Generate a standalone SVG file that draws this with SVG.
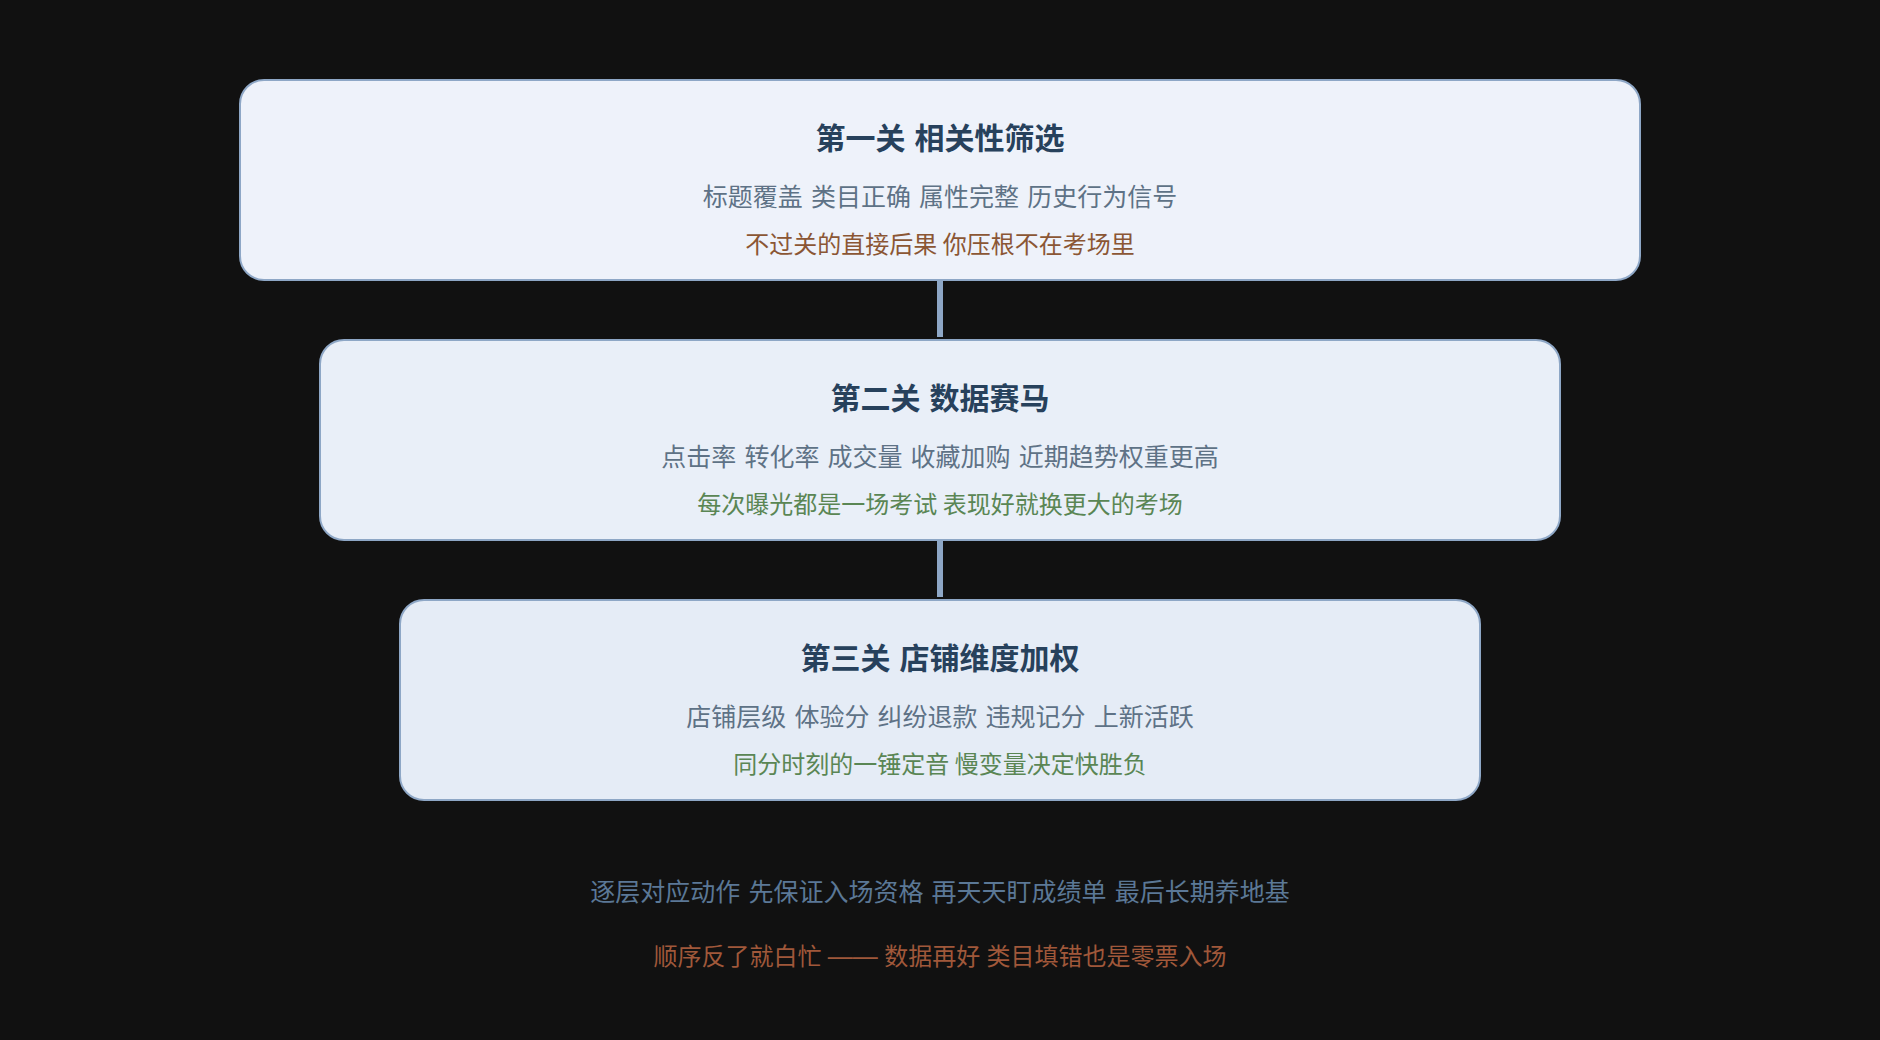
<svg xmlns="http://www.w3.org/2000/svg" width="1880" height="1040" viewBox="0 0 1880 1040">
<style>
text{font-family:"Noto Sans CJK SC","Noto Sans",sans-serif;text-anchor:middle}
.box{stroke:#8ea7c6;stroke-width:2}
.t{font-size:30px;font-weight:700;fill:#27415c;word-spacing:2px}
.s{font-size:25px;fill:#5e7286;word-spacing:2.5px}
.w{font-size:24px;fill:#8b5634}
.g{font-size:24px;fill:#5a8654}
.conn{stroke:#8ea7c6;stroke-width:6}
</style>
<rect width="1880" height="1040" fill="#111111"/>
<g id="connectors">
<line class="conn" x1="940" y1="281" x2="940" y2="337"/>
<line class="conn" x1="940" y1="541" x2="940" y2="597"/>
</g>
<g id="stage1">
<rect class="box" x="240" y="80" width="1400" height="200" rx="24" fill="#eef2fa"/>
<text class="t" x="940" y="149">第一关 相关性筛选</text>
<text class="s" x="940" y="206">标题覆盖 类目正确 属性完整 历史行为信号</text>
<text class="w" x="940" y="253">不过关的直接后果 你压根不在考场里</text>
</g>
<g id="stage2">
<rect class="box" x="320" y="340" width="1240" height="200" rx="24" fill="#e9eff8"/>
<text class="t" x="940" y="409">第二关 数据赛马</text>
<text class="s" x="940" y="466">点击率 转化率 成交量 收藏加购 近期趋势权重更高</text>
<text class="g" x="940" y="513">每次曝光都是一场考试 表现好就换更大的考场</text>
</g>
<g id="stage3">
<rect class="box" x="400" y="600" width="1080" height="200" rx="24" fill="#e5ecf6"/>
<text class="t" x="940" y="669">第三关 店铺维度加权</text>
<text class="s" x="940" y="726">店铺层级 体验分 纠纷退款 违规记分 上新活跃</text>
<text class="g" x="940" y="773">同分时刻的一锤定音 慢变量决定快胜负</text>
</g>
<g id="notes">
<text x="940" y="901" style="font-size:25px;fill:#5b7896;word-spacing:2.5px">逐层对应动作 先保证入场资格 再天天盯成绩单 最后长期养地基</text>
<text x="940" y="965" style="font-size:24px;fill:#a0583a;word-spacing:1px">顺序反了就白忙 <tspan style="font-family:'Liberation Sans',sans-serif;font-size:25px">——</tspan> 数据再好 类目填错也是零票入场</text>
</g>
</svg>
